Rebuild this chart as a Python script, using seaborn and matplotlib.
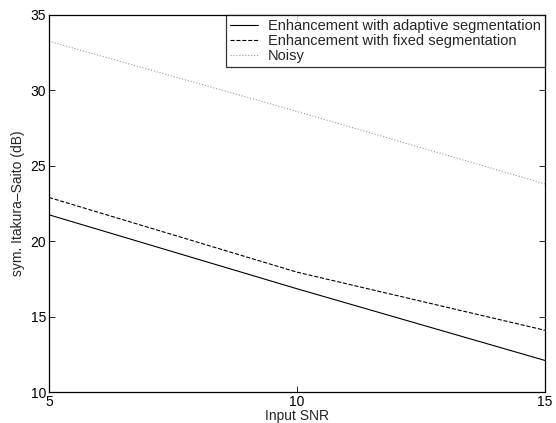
import matplotlib
matplotlib.use("Agg")
import matplotlib.pyplot as plt
import pandas as pd
import seaborn as sns

# values
snr = [5, 10, 15]
adaptive = [21.75, 16.85, 12.1]
fixed = [22.9, 17.95, 14.1]
noisy = [33.25, 28.6, 23.8]
labels = ["Enhancement with adaptive segmentation",
          "Enhancement with fixed segmentation",
          "Noisy"]

sns.set_style("ticks")
plt.rcParams['font.family'] = ['Liberation Sans', 'DejaVu Sans']

df = pd.DataFrame({'snr': snr * 3,
                   'value': adaptive + fixed + noisy,
                   'series': [labels[0]] * 3 + [labels[1]] * 3 + [labels[2]] * 3})

fig = plt.figure(figsize=(5.56, 4.23), dpi=100)
ax = fig.add_axes([0.088, 0.073, 0.892, 0.892])

styles = [('black', '-', 0.8), ('black', '--', 0.8), ('#999999', ':', 0.8)]
for lab, (col, ls, lw) in zip(labels, styles):
    sns.lineplot(data=df[df['series'] == lab], x='snr', y='value', ax=ax,
                 color=col, linestyle=ls, linewidth=lw, label=lab)

ax.set_xlim(5, 15)
ax.set_ylim(10, 35)
ax.set_xticks([5, 10, 15])
ax.set_yticks([10, 15, 20, 25, 30, 35])
ax.tick_params(direction='in', length=4, width=0.6, top=True, right=True,
               labelsize=10, pad=2, colors='black')
for sp in ax.spines.values():
    sp.set_linewidth(0.9)
    sp.set_color('black')

ax.set_xlabel("Input SNR", fontsize=10, labelpad=0)
ax.set_ylabel("sym. Itakura\u2013Saito (dB)", fontsize=10, labelpad=4)

leg = ax.legend(loc='upper right', bbox_to_anchor=(1.0, 1.0), borderaxespad=0,
                fontsize=10.5, frameon=True, fancybox=False, handlelength=1.9,
                handletextpad=0.65, labelspacing=0.05, borderpad=0.3)
leg.get_frame().set_edgecolor('black')
leg.get_frame().set_linewidth(0.9)

fig.savefig("out.png", dpi=100)
